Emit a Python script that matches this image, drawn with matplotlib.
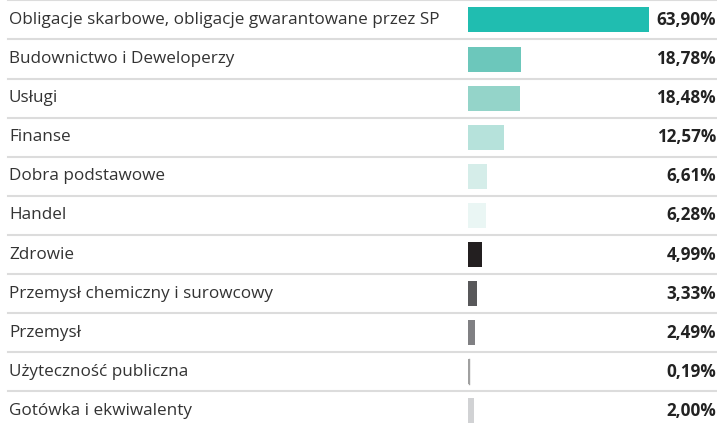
import matplotlib.pyplot as plt
import matplotlib.transforms as mtransforms

plt.rcParams['font.family'] = ['Open Sans', 'DejaVu Sans']

labels = ["Obligacje skarbowe, obligacje gwarantowane przez SP",
          "Budownictwo i Deweloperzy",
          "Usługi",
          "Finanse",
          "Dobra podstawowe",
          "Handel",
          "Zdrowie",
          "Przemysł chemiczny i surowcowy",
          "Przemysł",
          "Użyteczność publiczna",
          "Gotówka i ekwiwalenty"]
values = [63.90, 18.78, 18.48, 12.57, 6.61, 6.28, 4.99, 3.33, 2.49, 0.19, 2.00]
colors = ["#20bdb0", "#6cc7bb", "#94d4c9", "#b6e2db", "#d5ede9", "#eaf6f4",
          "#231f20", "#58585a", "#808083", "#a0a0a0", "#d1d2d4"]

fig = plt.figure(figsize=(7.17, 4.25), dpi=100)
ax = fig.add_axes([0, 0, 1, 1])
ax.axis("off")

ypos = list(range(len(values)))
ax.barh(ypos, values, height=0.64, color=colors, left=0)
# thin line for the tiny value so it stays visible
ax.plot([0.19, 0.19], [9 - 0.32, 9 + 0.32], color="#a0a0a0", lw=1)

ax.set_xlim(-165.2, 87.9)
ax.set_ylim(10.36, -0.51)

trans = mtransforms.blended_transform_factory(ax.transAxes, ax.transData)
for i in range(len(values)):
    ax.text(9 / 717, i, labels[i], transform=trans, ha="left", va="center",
            fontsize=12.3, color="#333333")
    ax.text(716 / 717, i, "{:.2f}%".format(values[i]).replace(".", ","),
            transform=trans, ha="right", va="center", fontsize=12.3,
            fontweight="bold", color="#222222")

for i in range(-1, len(values)):
    ax.plot([8 / 717, 1], [i + 0.5, i + 0.5], transform=trans,
            color="#dcdcdc", lw=1.5)

fig.savefig("out.png", dpi=100)
